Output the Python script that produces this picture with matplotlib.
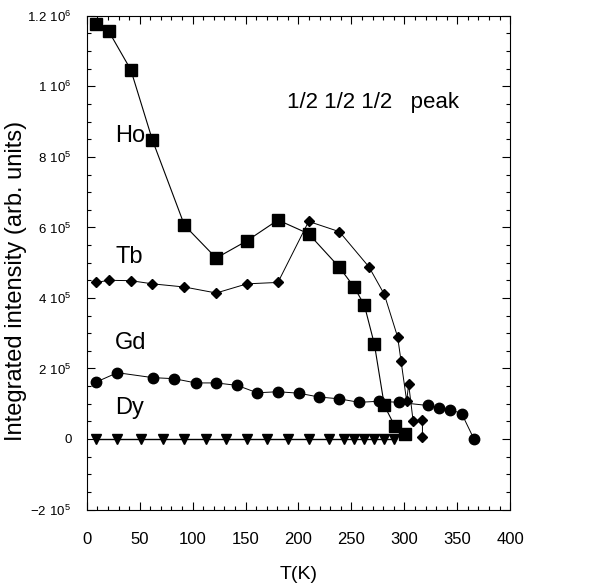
import matplotlib
matplotlib.use("Agg")
import matplotlib.pyplot as plt
from matplotlib.ticker import MultipleLocator, FuncFormatter

plt.rcParams["font.family"] = ["Liberation Sans", "DejaVu Sans"]
plt.rcParams["mathtext.fontset"] = "custom"
plt.rcParams["mathtext.rm"] = "Liberation Sans"

# Ho (squares)
ho_t = [8.8, 20.8, 41.6, 62.0, 92.3, 122.3, 151.3, 180.6, 209.6, 238.6,
        252.5, 262.2, 271.7, 281.1, 290.9, 300.4]
ho_i = [1.177e6, 1.156e6, 1.047e6, 8.48e5, 6.06e5, 5.13e5, 5.62e5, 6.21e5,
        5.82e5, 4.87e5, 4.31e5, 3.80e5, 2.69e5, 9.5e4, 3.7e4, 1.4e4]

# Tb (diamonds)
tb_t = [8.8, 20.8, 41.6, 62.0, 92.3, 122.3, 151.3, 180.6, 209.6, 238.6,
        266.6, 281.1, 293.7, 296.9, 302.2, 304.1, 308.3, 317.1, 317.1]
tb_i = [4.44e5, 4.50e5, 4.49e5, 4.40e5, 4.31e5, 4.14e5, 4.40e5, 4.44e5,
        6.17e5, 5.88e5, 4.88e5, 4.10e5, 2.89e5, 2.21e5, 1.08e5, 1.55e5,
        5.1e4, 5.4e4, 6.5e3]

# Gd (circles)
gd_t = [8.5, 28.9, 62.4, 82.6, 103.0, 122.3, 142.1, 161.0, 180.3, 200.1,
        219.4, 238.3, 257.2, 276.1, 294.7, 322.1, 333.1, 343.5, 354.2, 365.6]
gd_i = [1.61e5, 1.88e5, 1.74e5, 1.71e5, 1.59e5, 1.59e5, 1.52e5, 1.31e5,
        1.34e5, 1.30e5, 1.19e5, 1.14e5, 1.04e5, 1.07e5, 1.04e5, 9.5e4,
        8.9e4, 8.3e4, 7.2e4, 1.0e3]

# Dy (down triangles)
dy_t = [8.8, 28.9, 51.7, 72.2, 92.3, 112.2, 132.0, 151.3, 170.5, 190.1,
        209.6, 228.8, 243.0, 252.1, 261.9, 271.4, 280.8, 290.3]
dy_i = [0] * len(dy_t)


def sci_label(v, pos):
    if abs(v) < 1:
        return "0"
    exp = len(str(int(abs(v)))) - 1
    mant = v / 10 ** exp
    m = f"{mant:g}"
    return r"$\mathregular{" + m + r"\ 10^{" + str(exp) + r"}}$"


fig = plt.figure(figsize=(6.11, 5.87), dpi=100)
ax = fig.add_axes([0.142, 0.132, 0.693, 0.841])

ax.plot(ho_t, ho_i, "-s", color="black", lw=0.8, ms=8)
ax.plot(tb_t, tb_i, "-D", color="black", lw=0.7, ms=5.5)
ax.plot(gd_t, gd_i, "-o", color="black", lw=0.7, ms=7.5)
ax.plot(dy_t, dy_i, "-v", color="black", lw=1.0, ms=7.5)

ax.set_xlim(0, 400)
ax.set_ylim(-2e5, 1.2e6)
ax.xaxis.set_major_locator(MultipleLocator(50))
ax.xaxis.set_minor_locator(MultipleLocator(10))
ax.yaxis.set_major_locator(MultipleLocator(2e5))
ax.yaxis.set_minor_locator(MultipleLocator(5e4))
ax.yaxis.set_major_formatter(FuncFormatter(sci_label))

ax.tick_params(which="both", direction="in", top=True, right=True, width=0.8)
ax.tick_params(which="major", length=6)
ax.tick_params(which="minor", length=3)
ax.tick_params(axis="x", labelsize=12, pad=16)
ax.tick_params(axis="y", labelsize=9.5, pad=11)
for s in ax.spines.values():
    s.set_linewidth(0.8)

ax.set_xlabel("T(K)", fontsize=14, labelpad=14)
ax.set_ylabel("Integrated intensity (arb. units)", fontsize=17, va="center")
ax.yaxis.set_label_coords(-0.168, 0.464)

ax.text(27, 8.58e5, "Ho", fontsize=17, ha="left", va="center")
ax.text(27, 5.17e5, "Tb", fontsize=17, ha="left", va="center")
ax.text(27, 2.73e5, "Gd", fontsize=17, ha="left", va="center")
ax.text(27, 0.87e5, "Dy", fontsize=17, ha="left", va="center")
ax.text(189, 9.55e5, "1/2 1/2 1/2   peak", fontsize=16, ha="left", va="center")

fig.savefig("out.png", dpi=100)
